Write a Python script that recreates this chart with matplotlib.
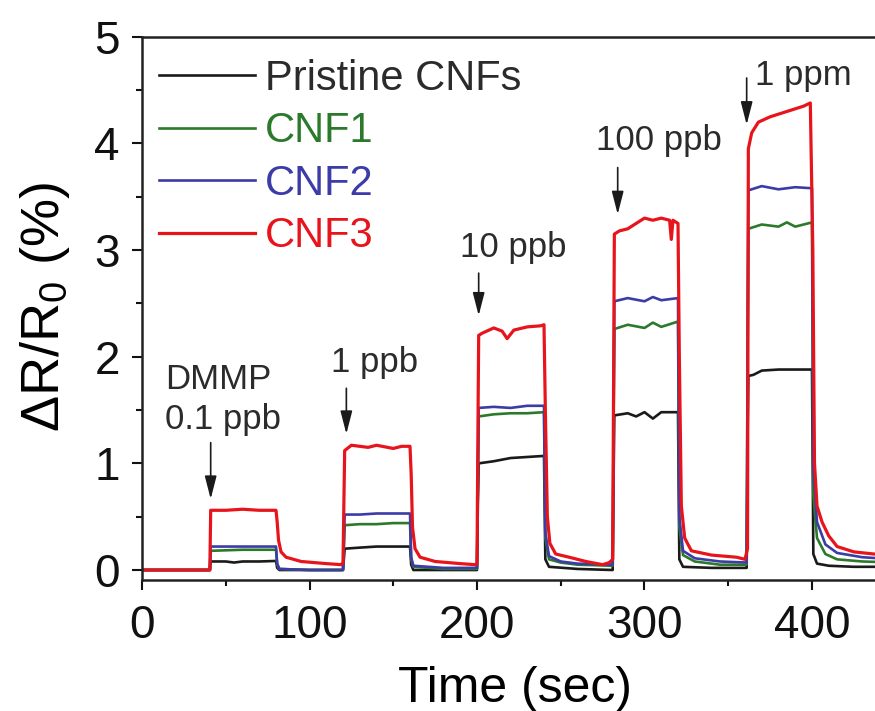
import matplotlib
matplotlib.use("Agg")
import matplotlib.pyplot as plt
from matplotlib.ticker import MultipleLocator

plt.rcParams['font.family'] = ['Liberation Sans', 'DejaVu Sans']
plt.rcParams['mathtext.default'] = 'regular'

# readings: time (s) and dR/R0 (%)
t_pristine = [0, 40.5, 41, 50, 55, 60, 70, 80, 80.7, 82, 100, 120, 120.5, 121, 130, 140, 150, 160,
              160.7, 162, 180, 200, 200.5, 201, 210, 220, 230, 240, 240.8, 243, 260, 281, 281.5, 282,
              290, 295, 300, 305, 310, 320, 320.8, 323, 340, 361, 361.5, 362, 365, 370, 380, 390, 400,
              400.8, 403, 410, 425, 450]
y_pristine = [0.0, 0.0, 0.08, 0.08, 0.07, 0.08, 0.08, 0.085, 0.02, 0.0, 0.0, 0.0, 0.1, 0.2, 0.21, 0.22, 0.22, 0.22,
              0.05, 0.0, 0.0, 0.0, 0.6, 1.0, 1.02, 1.05, 1.06, 1.07, 0.1, 0.03, 0.01, 0.0, 0.8, 1.45,
              1.47, 1.44, 1.48, 1.42, 1.48, 1.48, 0.1, 0.03, 0.02, 0.02, 1.2, 1.82, 1.83, 1.87, 1.88, 1.88, 1.88,
              0.15, 0.06, 0.04, 0.03, 0.03]

t_cnf1 = [0, 40.5, 41, 60, 80, 80.7, 82, 100, 120, 120.5, 121, 130, 140, 150, 160,
          160.7, 162, 180, 200, 200.5, 201, 210, 220, 230, 240, 240.8, 243, 250, 260, 281, 281.5, 282,
          290, 300, 305, 310, 320, 320.8, 323, 330, 345, 361, 361.5, 362, 370, 380, 385, 390, 400,
          400.8, 403, 408, 415, 430, 450]
y_cnf1 = [0.0, 0.0, 0.18, 0.19, 0.19, 0.05, 0.01, 0.0, 0.0, 0.2, 0.42, 0.43, 0.43, 0.44, 0.44,
          0.1, 0.03, 0.01, 0.01, 0.8, 1.44, 1.46, 1.47, 1.47, 1.48, 0.3, 0.1, 0.07, 0.05, 0.04, 1.2, 2.26,
          2.3, 2.27, 2.32, 2.28, 2.33, 0.4, 0.14, 0.08, 0.05, 0.05, 1.8, 3.2, 3.24, 3.22, 3.26, 3.22, 3.26,
          0.7, 0.3, 0.15, 0.1, 0.08, 0.07]

t_cnf2 = [0, 40.5, 41, 60, 80, 80.7, 82, 100, 120, 120.5, 121, 130, 140, 150, 160,
          160.7, 162, 180, 200, 200.5, 201, 210, 220, 230, 240, 240.8, 243, 250, 260, 281, 281.5, 282,
          290, 300, 305, 310, 320, 320.8, 323, 330, 345, 361, 361.5, 362, 370, 380, 390, 400,
          400.8, 403, 408, 415, 430, 450]
y_cnf2 = [0.0, 0.0, 0.22, 0.22, 0.22, 0.06, 0.01, 0.0, 0.0, 0.25, 0.52, 0.52, 0.53, 0.53, 0.53,
          0.12, 0.04, 0.02, 0.02, 0.8, 1.52, 1.53, 1.52, 1.54, 1.54, 0.35, 0.13, 0.08, 0.06, 0.05, 1.3, 2.52,
          2.55, 2.52, 2.56, 2.53, 2.55, 0.5, 0.18, 0.11, 0.08, 0.07, 1.9, 3.56, 3.6, 3.57, 3.59, 3.58,
          0.95, 0.45, 0.24, 0.16, 0.12, 0.1]

t_cnf3 = [0, 20, 40.5, 41, 50, 60, 70, 80, 80.7, 81.5, 83, 86, 95, 110, 119, 120, 120.5, 121,
          125, 135, 140, 150, 155, 160, 160.7, 161.5, 163, 166, 175, 190, 199, 200, 200.5, 201,
          203, 210, 215, 218, 222, 230, 238, 240, 240.8, 242, 243.5, 247, 255, 265, 275, 279, 281,
          281.5, 282, 285, 290, 295, 300, 305, 310, 315, 316, 317, 320, 320.8, 322, 324, 328, 340,
          355, 360, 361.5, 362, 364, 368, 375, 385, 395, 399, 400.5, 401.5, 403, 406, 410, 415, 425,
          437, 450]
y_cnf3 = [0.0, 0.0, 0.0, 0.56, 0.56, 0.57, 0.56, 0.56, 0.45, 0.28, 0.17, 0.12, 0.08, 0.06, 0.05, 0.07, 0.6, 1.12,
          1.17, 1.15, 1.17, 1.14, 1.16, 1.16, 0.9, 0.4, 0.2, 0.12, 0.08, 0.06, 0.05, 0.06, 1.2, 2.2,
          2.22, 2.27, 2.24, 2.17, 2.25, 2.28, 2.29, 2.3, 1.5, 0.5, 0.25, 0.15, 0.12, 0.08, 0.05, 0.07, 0.1,
          1.6, 3.15, 3.18, 3.2, 3.25, 3.3, 3.28, 3.3, 3.28, 3.1, 3.28, 3.25, 2.0, 0.6, 0.3, 0.18, 0.14,
          0.12, 0.1, 0.2, 3.95, 4.1, 4.2, 4.25, 4.3, 4.35, 4.38, 3.0, 1.0, 0.6, 0.45, 0.32, 0.22, 0.17,
          0.15, 0.14]

series = [("Pristine CNFs", t_pristine, y_pristine, "#1a1a1a"),
          ("CNF1", t_cnf1, y_cnf1, "#2b7a2b"),
          ("CNF2", t_cnf2, y_cnf2, "#3c3ca8"),
          ("CNF3", t_cnf3, y_cnf3, "#e8141c")]

# (text, text x, text y, arrow x, arrow top, arrow tip)
notes = [("DMMP\n0.1 ppb", 14, 1.6, 41, 1.22, 0.64),
         ("1 ppb", 113, 1.95, 122, 1.73, 1.25),
         ("10 ppb", 190, 3.02, 201, 2.81, 2.36),
         ("100 ppb", 271, 4.03, 284, 3.8, 3.31),
         ("1 ppm", 366, 4.64, 361, 4.64, 4.15)]

fig = plt.figure(figsize=(8.75, 7.11), dpi=100)
ax = fig.add_axes([0.1623, 0.1842, 0.8614, 0.764])

for name, t, y, c in series:
    lw = 2.3 if name == "CNF3" else 1.9
    ax.plot(t, y, color=c, lw=lw, label=name)

for txt, tx, ty, ax_x, a0, a1 in notes:
    ax.text(tx, ty, txt, fontsize=25, color="#2b2b2b", ha="left", va="center",
            linespacing=1.25)
    ax.annotate("", xy=(ax_x, a1), xytext=(ax_x, a0),
                arrowprops=dict(arrowstyle="-|>,head_width=0.18,head_length=0.7",
                                color="#1a1a1a", lw=1.2, mutation_scale=20))

ax.set_xlim(0, 450)
ax.set_ylim(-0.094, 5)
ax.xaxis.set_major_locator(MultipleLocator(100))
ax.xaxis.set_minor_locator(MultipleLocator(50))
ax.yaxis.set_major_locator(MultipleLocator(1))
ax.yaxis.set_minor_locator(MultipleLocator(0.5))
ax.tick_params(which="both", direction="out", width=1.5, labelsize=33, colors="#111111")
ax.tick_params(axis="x", pad=10)
ax.tick_params(axis="y", pad=9)
ax.tick_params(which="major", length=7)
ax.tick_params(which="minor", length=4)
for s in ax.spines.values():
    s.set_linewidth(1.8)
    s.set_color("#222222")

ax.set_xlabel("Time (sec)", fontsize=36)
ax.set_ylabel("ΔR/R$_0$ (%)", fontsize=39)
ax.xaxis.set_label_coords(0.495, -0.158)
ax.yaxis.set_label_coords(-0.093, 0.503)

leg = ax.legend(loc="upper left", frameon=False, fontsize=30, handlelength=2.3,
                handletextpad=0.25, labelspacing=0.3, borderaxespad=0.0,
                bbox_to_anchor=(0.0, 0.99))
for txt, (_, _, _, c) in zip(leg.get_texts(), series):
    txt.set_color(c if c != "#1a1a1a" else "#2b2b2b")

fig.savefig("out.png", dpi=100)
